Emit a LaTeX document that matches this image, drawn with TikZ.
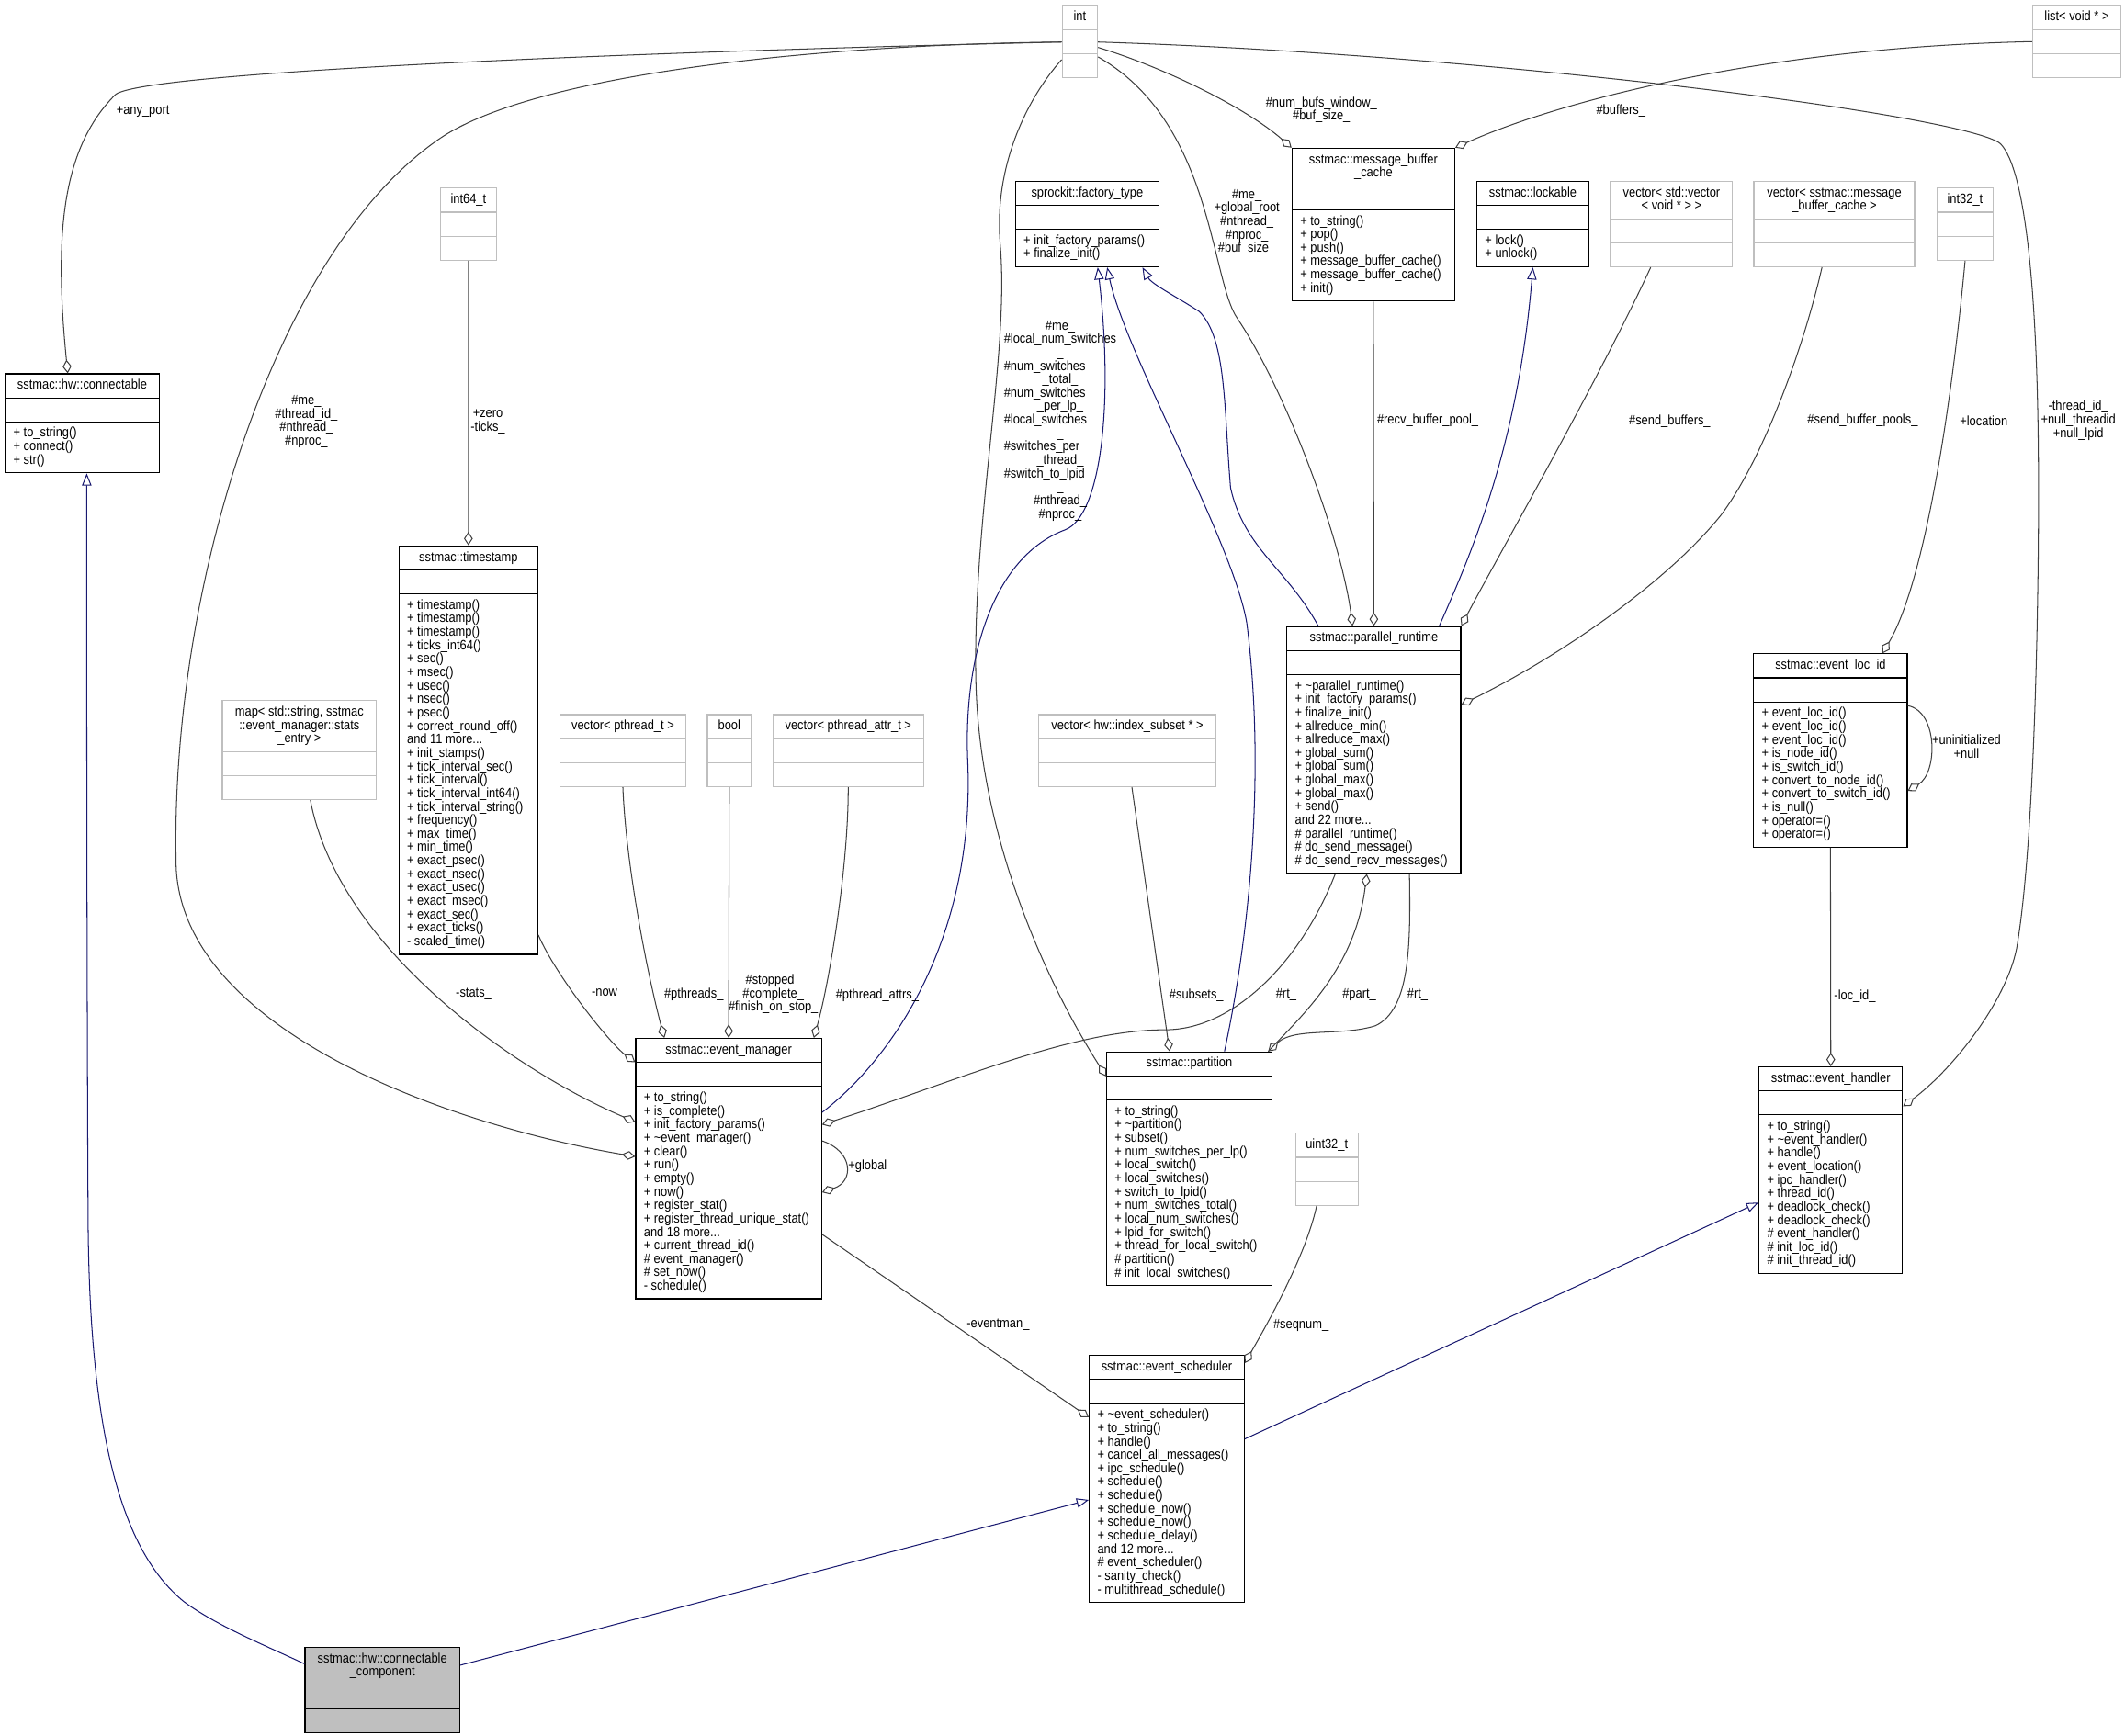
\documentclass[tikz,border=0pt]{standalone}
\usepackage{fontspec}
\newfontfamily\dxfont{Liberation Sans}[FakeStretch=0.873]
\usetikzlibrary{shapes.multipart, arrows.meta, calc}
\definecolor{edgegrey}{HTML}{404040}
\definecolor{inhblue}{HTML}{191970}
\definecolor{boxgrey}{HTML}{BFBFBF}
\newcommand{\dxsize}{\fontsize{10}{9.93}\selectfont\setbox\strutbox\hbox{\vrule height7.4pt depth2.53pt width0pt}}
\newcommand{\mlist}[1]{\begin{tabular}{@{}l@{}}#1\end{tabular}}
\newcommand{\ctitle}[1]{\begin{tabular}{@{}c@{}}#1\end{tabular}}
\newcommand{\midl}[1]{\multicolumn{1}{@{}c@{}}{#1}}
\newcommand{\dtor}{\textasciitilde}

\begin{document}
\begin{tikzpicture}[
  x=1pt, y=-1pt,
  font=\dxfont\dxsize,
  cls/.style={rectangle split, rectangle split parts=3, draw=black, line width=0.8pt,
              rectangle split part align={center,left,left},
              rectangle split empty part height=7.4pt, rectangle split empty part depth=2.53pt,
              inner xsep=6pt, inner ysep=3.5pt, anchor=north west},
  ext/.style={cls, draw=boxgrey},
  aggr/.style={{Diamond[open, length=10pt, width=6.5pt]}-, draw=edgegrey, line width=0.7pt},
  inh/.style={-{Triangle[open, length=9pt, width=7pt]}, draw=inhblue, line width=0.7pt},
  lbl/.style={inner sep=0pt}
]
\fill[white] (0,0) rectangle (1568,1281);
\useasboundingbox (0,0) rectangle (1568,1281);

% classes
\node[ext, minimum width=26pt] (intT) at (783.4,3.7) {\strut int\nodepart{second}\nodepart{third}};
\node[ext, minimum width=65pt] (listV) at (1499.5,3.7) {\strut list< void * >\nodepart{second}\nodepart{third}};
\node[cls, minimum width=113.5pt] (conn) at (3.5,275.5)
  {\strut sstmac::hw::connectable\nodepart{second}\nodepart{third}\mlist{+ to\_string()\\+ connect()\\+ str()}};
\node[ext, minimum width=41.5pt] (intS) at (324.5,138.5) {\strut int64\_t\nodepart{second}\nodepart{third}};
\node[cls, minimum width=105.8pt] (fact) at (748.9,133.4)
  {\strut sprockit::factory\_type\nodepart{second}\nodepart{third}\mlist{+ init\_factory\_params()\\+ finalize\_init()}};
\node[cls, minimum width=120pt] (mbc) at (953,109)
  {\ctitle{sstmac::message\_buffer\\\_cache}\nodepart{second}\nodepart{third}\mlist{+ to\_string()\\+ pop()\\+ push()\\+ message\_buffer\_cache()\\+ message\_buffer\_cache()\\+ init()}};
\node[cls, minimum width=82.5pt] (lock) at (1089.4,133.4)
  {\strut sstmac::lockable\nodepart{second}\nodepart{third}\mlist{+ lock()\\+ unlock()}};
\node[ext, minimum width=90pt] (vvec) at (1188,133.4) {\ctitle{vector< std::vector\\< void * > >}\nodepart{second}\nodepart{third}};
\node[ext, minimum width=118.7pt] (vmbc) at (1293.7,133.4) {\ctitle{vector< sstmac::message\\\_buffer\_cache >}\nodepart{second}\nodepart{third}};
\node[ext, minimum width=41.8pt] (intL) at (1428.7,138.5) {\strut int32\_t\nodepart{second}\nodepart{third}};
\node[cls, minimum width=102.4pt] (tstamp) at (294,402.5)
  {\strut sstmac::timestamp\nodepart{second}\nodepart{third}\mlist{+ timestamp()\\+ timestamp()\\+ timestamp()\\+ ticks\_int64()\\+ sec()\\+ msec()\\+ usec()\\+ nsec()\\+ psec()\\+ correct\_round\_off()\\and 11 more...\\+ init\_stamps()\\+ tick\_interval\_sec()\\+ tick\_interval()\\+ tick\_interval\_int64()\\+ tick\_interval\_string()\\+ frequency()\\+ max\_time()\\+ min\_time()\\+ exact\_psec()\\+ exact\_nsec()\\+ exact\_usec()\\+ exact\_msec()\\+ exact\_sec()\\+ exact\_ticks()\\- scaled\_time()}};
\node[ext, minimum width=113.8pt] (statmap) at (163.6,516.7) {\ctitle{map< std::string, sstmac\\::event\_manager::stats\\\_entry >}\nodepart{second}\nodepart{third}};
\node[ext, minimum width=92.4pt] (vthr) at (413,527) {\strut vector< pthread\_t >\nodepart{second}\nodepart{third}};
\node[ext, minimum width=32.2pt] (flag) at (521.6,527) {\strut bool\nodepart{second}\nodepart{third}};
\node[ext, minimum width=111pt] (vattr) at (570,527) {\strut vector< pthread\_attr\_t >\nodepart{second}\nodepart{third}};
\node[ext, minimum width=131.2pt] (vsub) at (765.8,527) {\strut vector< hw::index\_subset * >\nodepart{second}\nodepart{third}};
\node[cls, minimum width=128.3pt] (prt) at (949.2,462)
  {\strut sstmac::parallel\_runtime\nodepart{second}\nodepart{third}\mlist{+ \dtor parallel\_runtime()\\+ init\_factory\_params()\\+ finalize\_init()\\+ allreduce\_min()\\+ allreduce\_max()\\+ global\_sum()\\+ global\_sum()\\+ global\_max()\\+ global\_max()\\+ send()\\and 22 more...\\\# parallel\_runtime()\\\# do\_send\_message()\\\# do\_send\_recv\_messages()}};
\node[cls, minimum width=113.3pt] (locid) at (1293.6,482.2)
  {\strut sstmac::event\_loc\_id\nodepart{second}\nodepart{third}\mlist{+ event\_loc\_id()\\+ event\_loc\_id()\\+ event\_loc\_id()\\+ is\_node\_id()\\+ is\_switch\_id()\\+ convert\_to\_node\_id()\\+ convert\_to\_switch\_id()\\+ is\_null()\\+ operator=()\\+ operator=()}};
\node[cls, minimum width=137.1pt] (evman) at (468.7,766)
  {\strut sstmac::event\_manager\nodepart{second}\nodepart{third}\mlist{+ to\_string()\\+ is\_complete()\\+ init\_factory\_params()\\+ \dtor event\_manager()\\+ clear()\\+ run()\\+ empty()\\+ now()\\+ register\_stat()\\+ register\_thread\_unique\_stat()\\and 18 more...\\+ current\_thread\_id()\\\# event\_manager()\\\# set\_now()\\- schedule()}};
\node[cls, minimum width=121.8pt] (part) at (816.2,776)
  {\strut sstmac::partition\nodepart{second}\nodepart{third}\mlist{+ to\_string()\\+ \dtor partition()\\+ subset()\\+ num\_switches\_per\_lp()\\+ local\_switch()\\+ local\_switches()\\+ switch\_to\_lpid()\\+ num\_switches\_total()\\+ local\_num\_switches()\\+ lpid\_for\_switch()\\+ thread\_for\_local\_switch()\\\# partition()\\\# init\_local\_switches()}};
\node[ext, minimum width=46.3pt] (intU) at (955.5,836) {\strut uint32\_t\nodepart{second}\nodepart{third}};
\node[cls, minimum width=105.8pt] (evhand) at (1297.6,787)
  {\strut sstmac::event\_handler\nodepart{second}\nodepart{third}\mlist{+ to\_string()\\+ \dtor event\_handler()\\+ handle()\\+ event\_location()\\+ ipc\_handler()\\+ thread\_id()\\+ deadlock\_check()\\+ deadlock\_check()\\\# event\_handler()\\\# init\_loc\_id()\\\# init\_thread\_id()}};
\node[cls, minimum width=114.3pt] (evsched) at (803.4,1000)
  {\strut sstmac::event\_scheduler\nodepart{second}\nodepart{third}\mlist{+ \dtor event\_scheduler()\\+ to\_string()\\+ handle()\\+ cancel\_all\_messages()\\+ ipc\_schedule()\\+ schedule()\\+ schedule()\\+ schedule\_now()\\+ schedule\_now()\\+ schedule\_delay()\\and 12 more...\\\# event\_scheduler()\\- sanity\_check()\\- multithread\_schedule()}};
\node[cls, fill=boxgrey, minimum width=114.1pt] (concomp) at (224.7,1215.4)
  {\ctitle{sstmac::hw::connectable\\\_component}\nodepart{second}\nodepart{third}};

% usage edges
\draw[aggr] ($(conn.north west)+(46.5,0)$) .. controls (40,175) and (45,110) .. (85,70)
  .. controls (100,55) and (400,40) .. ($(intT.north west)+(0,27.3)$);
\draw[aggr] ($(evman.north west)+(0,87.6)$) .. controls (330,830) and (135,760) .. (130,640)
  .. controls (125,440) and (200,190) .. (322,104) .. controls (390,55) and (600,33) .. ($(intT.north west)+(0,27.3)$);
\draw[aggr] (tstamp.north) -- (intS.south);
\draw[aggr] ($(part.north west)+(0,18.4)$) .. controls (775,730) and (722,620) .. (720,500)
  .. controls (718,380) and (745,260) .. (738,180) .. controls (733,120) and (760,70) .. ($(intT.north west)+(0,40.3)$);
\draw[aggr] ($(prt.north west)+(48.8,0)$) .. controls (990,400) and (950,290) .. (913,235)
  .. controls (893,206) and (895,90) .. ($(intT.north east)+(0,38.3)$);
\draw[aggr] (mbc.north west) .. controls (920,80) and (860,50) .. ($(intT.north east)+(0,31.3)$);
\draw[aggr] ($(evhand.north east)+(0,29.5)$) .. controls (1440,790) and (1480,740) .. (1488,700)
  .. controls (1502,620) and (1505,420) .. (1504,330) .. controls (1503,220) and (1495,125) .. (1476,106)
  .. controls (1450,85) and (1100,40) .. ($(intT.north east)+(0,27.3)$);
\draw[aggr] (mbc.north east) .. controls (1150,75) and (1300,35) .. (listV.west);
\draw[aggr] (prt.north) -- (mbc.south);
\draw[aggr] (prt.north east) .. controls (1100,420) and (1180,280) .. ($(vvec.south west)+(30,0)$);
\draw[aggr] ($(prt.north east)+(0,58)$) .. controls (1150,485) and (1230,430) .. (1270,380)
  .. controls (1300,340) and (1330,260) .. ($(vmbc.south west)+(50.7,0)$);
\draw[aggr] ($(locid.north west)+(95.4,0)$) .. controls (1420,430) and (1440,300) .. (intL.south);
\draw[aggr] ($(locid.north east)+(0,101.6)$) .. controls (1430,570) and (1430,525) .. ($(locid.north east)+(0,38.6)$);
\draw[aggr] (evhand.north) -- (locid.south);
\draw[aggr] ($(evsched.north west)+(0,46)$) -- ($(evman.north east)+(0,145)$);
\draw[aggr] ($(evsched.north east)+(0,6)$) .. controls (945,960) and (965,920) .. ($(intU.south west)+(16,0)$);
\draw[aggr] ($(evman.north east)+(0,114)$) .. controls (630,872) and (630,850) .. ($(evman.north east)+(0,76)$);
\draw[aggr] ($(evman.north east)+(0,64)$) .. controls (700,800) and (790,760) .. (860,760)
  .. controls (910,760) and (960,710) .. ($(prt.south west)+(36,0)$);
\draw[aggr] ($(prt.south west)+(59.3,0)$) .. controls (1000,715) and (960,750) .. ($(part.north east)+(-3,0)$);
\draw[aggr] ($(part.north east)+(-3,0)$) .. controls (955,758) and (990,765) .. (1015,757)
  .. controls (1040,745) and (1041,700) .. ($(prt.south west)+(90.8,0)$);
\draw[aggr] ($(part.north west)+(46.8,0)$) -- ($(vsub.south west)+(69.4,0)$);
\draw[aggr] ($(evman.north west)+(0,18)$) .. controls (450,770) and (410,720) .. ($(tstamp.north east)+(0,287.5)$);
\draw[aggr] ($(evman.north west)+(0,62)$) .. controls (380,790) and (250,700) .. ($(statmap.south west)+(65.4,0)$);
\draw[aggr] ($(evman.north west)+(21.5,0)$) .. controls (478,720) and (462,640) .. (vthr.south);
\draw[aggr] (evman.north) -- (flag.south);
\draw[aggr] ($(evman.north west)+(131.8,0)$) .. controls (612,725) and (626,640) .. (vattr.south);

% inheritance
\draw[inh] ($(evman.north east)+(0,55)$) .. controls (660,780) and (720,690) .. (714,560)
  .. controls (711,480) and (735,410) .. (786,391) .. controls (812,381) and (822,300) .. ($(fact.south west)+(61.1,0)$);
\draw[inh] ($(part.north west)+(87.3,0)$) .. controls (922,690) and (934,570) .. (920,460)
  .. controls (910,400) and (830,260) .. ($(fact.south west)+(68.1,0)$);
\draw[inh] ($(prt.north west)+(23.5,0)$) .. controls (950,420) and (918,405) .. (908,360)
  .. controls (903,300) and (905,250) .. (885,230) .. controls (870,220) and (850,210) .. ($(fact.south west)+(94.1,0)$);
\draw[inh] ($(prt.north west)+(112.8,0)$) .. controls (1085,410) and (1120,330) .. (lock.south);
\draw[inh] ($(evsched.north east)+(0,62)$) -- ($(evhand.north west)+(0,100.5)$);
\draw[inh] ($(concomp.north east)+(0,13.6)$) -- ($(evsched.north west)+(0,107)$);
\draw[inh] ($(concomp.north west)+(0,12.6)$) .. controls (195,1214) and (160,1200) .. (135.6,1182)
  .. controls (90,1145) and (66,1060) .. (65,900) .. controls (64,700) and (64,500) .. ($(conn.south west)+(60.5,0)$);

% edge labels
\node[lbl] (lAny) at (105.5,82.3) {+any\_port};
\node[lbl] (lMe) at (226,311) {\ctitle{\#me\_\\\#thread\_id\_\\\#nthread\_\\\#nproc\_}};
\node[lbl] (lTicks) at (360,310.8) {\ctitle{+zero\\-ticks\_}};
\node[lbl] (lSwitch) at (782.3,310.5) {\begin{tabular}{@{}l@{}}\midl{\#me\_}\\\#local\_num\_switches\\\midl{\_}\\\#num\_switches\\\midl{\_total\_}\\\#num\_switches\\\midl{\_per\_lp\_}\\\#local\_switches\\\midl{\_}\\\#switches\_per\\\midl{\_thread\_}\\\#switch\_to\_lpid\\\midl{\_}\\\midl{\#nthread\_}\\\midl{\#nproc\_}\end{tabular}};
\node[lbl] (lRoot) at (920,164) {\ctitle{\#me\_\\+global\_root\\\#nthread\_\\\#nproc\_\\\#buf\_size\_}};
\node[lbl] (lWindow) at (975,81.3) {\ctitle{\#num\_bufs\_window\_\\\#buf\_size\_}};
\node[lbl] (lThread) at (1533.5,310.5) {\ctitle{-thread\_id\_\\+null\_threadid\\+null\_lpid}};
\node[lbl] (lBuffers) at (1196,81.6) {\#buffers\_};
\node[lbl, anchor=west] (lRecv) at (1016,310.6) {\#recv\_buffer\_pool\_};
\node[lbl] (lSend) at (1232,310.6) {\#send\_buffers\_};
\node[lbl] (lPools) at (1374.4,310.6) {\#send\_buffer\_pools\_};
\node[lbl] (lLocation) at (1463.8,310.6) {+location};
\node[lbl] (lNull) at (1451,552) {\ctitle{+uninitialized\\+null}};
\node[lbl, anchor=west] (lLocId) at (1353.2,735.6) {-loc\_id\_};
\node[lbl] (lEventman) at (736.5,978) {-eventman\_};
\node[lbl] (lSeq) at (960,978) {\#seqnum\_};
\node[lbl, anchor=west] (lGlobal) at (625.8,861) {+global};
\node[lbl] (lRtA) at (949,734.3) {\#rt\_};
\node[lbl] (lPart) at (1003,734.3) {\#part\_};
\node[lbl] (lRtB) at (1046,734.3) {\#rt\_};
\node[lbl] (lSub) at (882.8,734.3) {\#subsets\_};
\node[lbl] (lNow) at (448.5,733.8) {-now\_};
\node[lbl] (lStats) at (349.5,733.8) {-stats\_};
\node[lbl] (lThreads) at (512,733.8) {\#pthreads\_};
\node[lbl] (lStop) at (570.6,733.8) {\ctitle{\#stopped\_\\\#complete\_\\\#finish\_on\_stop\_}};
\node[lbl] (lAttrs) at (647.3,734.3) {\#pthread\_attrs\_};

\end{tikzpicture}
\end{document}
